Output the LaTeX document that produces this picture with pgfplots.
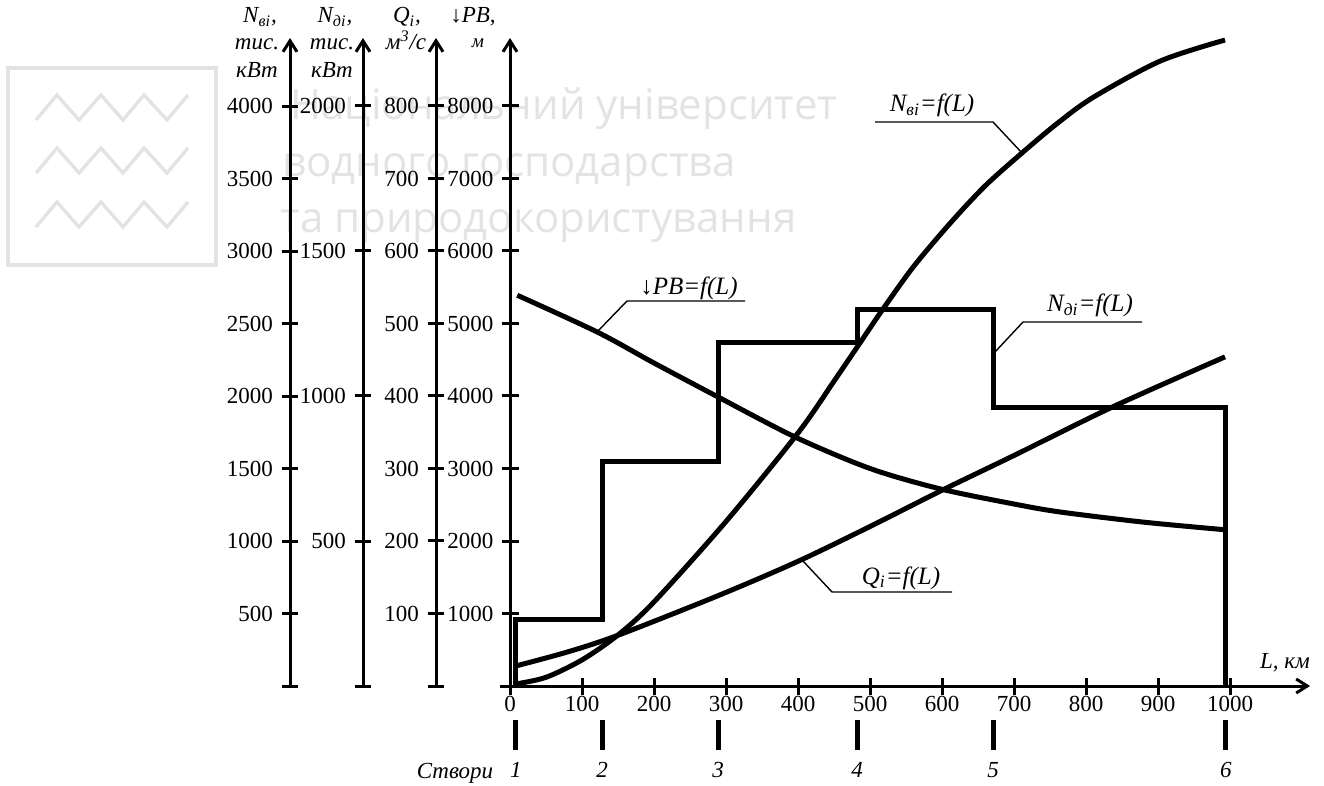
\documentclass[border=0pt]{standalone}
\usepackage{fontspec}
\setmainfont{Liberation Serif}
\newfontfamily\wmfont{Open Sans}
\usepackage{pgfplots}
\usepackage{pgfplotstable}
\pgfplotsset{compat=1.18}
\usetikzlibrary{arrows.meta}

% ↓PB = f(L), m
\pgfplotstableread{
L PB
10 5390
121 4883
200 4455
289 3986
396 3434
500 3000
597 2720
700 2510
764 2400
880 2260
993 2155
}\pbdata
% N_vi = f(L), thous. kW
\pgfplotstableread{
L N
8 14
50 60
100 180
150 352
200 580
300 1135
400 1745
451 2110
486 2366
517 2593
560 2890
611 3190
660 3450
711 3676
760 3880
810 4060
903 4310
993 4455
}\nvdata
% N_di = f(L), thous. kW (step)
\pgfplotstableread{
L N
8 0
8 231
128 231
128 775
289 775
289 1186
482 1186
482 1297
671 1297
671 962
994 962
994 0
}\nddata
% Q_i = f(L), m3/s
\pgfplotstableread{
L Q
8 27.6
80 47
150 70
290 125
400 172
500 220
600 270
700 318
837 385
993 454
}\qdata

\newcommand\lf{\fontsize{11.5}{13}\selectfont\itshape}
\newcommand\cf{\fontsize{12.5}{14}\selectfont\itshape}
\tikzset{barb/.style={-{Straight Barb[length=5.5pt,width=7pt,line width=1.5pt]}}}
\pgfplotsset{
  base/.style={scale only axis, width=405pt, height=324pt, at={(250pt,-343pt)}, anchor=south west,
    xmin=-13.9, xmax=1111, ymin=0, clip=false},
  scaleax/.style={scale only axis, width=1pt, height=324pt, anchor=south west,
    xmin=0, xmax=1, ymin=0, axis x line=none, axis y line=left,
    y axis line style={line width=1.5pt, barb},
    tick align=center, major tick length=8.5pt,
    ytick style={line width=1.5pt, black},
    tick label style={font=\fontsize{11.5}{13}\selectfont},
    yticklabel style={xshift=-0.8pt},
    /pgf/number format/assume math mode=true,
    /pgf/number format/1000 sep={}},
}

\begin{document}
\begin{tikzpicture}[x=0.5pt,y=-0.5pt]
\useasboundingbox (0,0) rectangle (1324,786);

% watermark
\begin{scope}[black!11]
\draw[line width=1.8pt] (8,68) rectangle (216,265);
\draw[line width=1.7pt] (36,120)--(57,95)--(79,120)--(101,95)--(123,120)--(144,95)--(167,120)--(188,95);
\draw[line width=1.7pt] (36,173)--(57,148)--(79,173)--(101,148)--(123,173)--(144,148)--(167,173)--(188,148);
\draw[line width=1.7pt] (36,227)--(57,202)--(79,227)--(101,202)--(123,227)--(144,202)--(167,227)--(188,202);
\node[anchor=base west, font=\wmfont\fontsize{21}{21}\selectfont, inner sep=0] at (290,120) {Національний університет};
\node[anchor=base west, font=\wmfont\fontsize{21}{21}\selectfont, inner sep=0] at (282,177) {водного господарства};
\node[anchor=base west, font=\wmfont\fontsize{21}{21}\selectfont, inner sep=0] at (280,233) {та природокористування};
\end{scope}

% left scales
\begin{axis}[scaleax, at={(145pt,-343pt)}, ymax=4469,
  ytick={0,500,...,4000}, yticklabels={,500,1000,1500,2000,2500,3000,3500,4000}]
\end{axis}
\begin{axis}[scaleax, at={(181.5pt,-343pt)}, ymax=2234.5,
  ytick={0,500,...,2000}, yticklabels={,500,1000,1500,2000}]
\end{axis}
\begin{axis}[scaleax, at={(218pt,-343pt)}, ymax=893.8,
  ytick={0,100,...,800}, yticklabels={,100,200,300,400,500,600,700,800}]
\end{axis}

% main axis with ↓PB
\begin{axis}[base, ymax=8938,
  axis lines=middle,
  axis line style={line width=1.5pt, barb},
  hide obscured x ticks=false, hide obscured y ticks=false,
  xtick={0,100,...,1000}, ytick={1000,2000,...,8000},
  tick align=center, major tick length=8.5pt,
  tick style={line width=1.5pt, black},
  tick label style={font=\fontsize{11.5}{13}\selectfont},
  yticklabel style={xshift=-0.5pt},
  xticklabel style={yshift=2.5pt},
  /pgf/number format/assume math mode=true,
  /pgf/number format/1000 sep={}]
\addplot[black, line width=2.5pt, smooth, no markers] table[x=L,y=PB] {\pbdata};
\foreach \s/\n in {8/1,128/2,289/3,482/4,671/5,994/6}{
  \edef\tmp{\noexpand\draw[line width=2.5pt] (axis cs:\s,-469) -- (axis cs:\s,-883);
    \noexpand\node[anchor=base, font=\noexpand\lf] at (axis cs:\s,-1262) {\n};}
  \tmp
}
\end{axis}

% N_vi
\begin{axis}[base, ymax=4469, hide axis]
\addplot[black, line width=2.5pt, smooth, no markers] table[x=L,y=N] {\nvdata};
\end{axis}
% N_di
\begin{axis}[base, ymax=2234.5, hide axis]
\addplot[black, line width=2.5pt, no markers, line join=miter] table[x=L,y=N] {\nddata};
\end{axis}
% Q_i
\begin{axis}[base, ymax=893.8, hide axis]
\addplot[black, line width=2.5pt, smooth, no markers] table[x=L,y=Q] {\qdata};
\end{axis}

% axis titles
\node[anchor=base, font=\lf] at (260,23) {N\textsubscript{вi},};
\node[anchor=base, font=\lf] at (257,50) {тис.};
\node[anchor=base, font=\lf] at (257,78) {кВт};
\node[anchor=base, font=\lf] at (335,23) {N\textsubscript{дi},};
\node[anchor=base, font=\lf] at (332,50) {тис.};
\node[anchor=base, font=\lf] at (332,78) {кВт};
\node[anchor=base, font=\lf] at (407,23) {Q\textsubscript{i},};
\node[anchor=base, font=\lf] at (406,50) {м\textsuperscript{3}/с};
\node[anchor=base, font=\lf] at (473,23) {↓PB,};
\node[anchor=base, font=\fontsize{9.5}{11}\selectfont\itshape] at (478,48) {м};
\node[anchor=base, font=\lf] at (1285,668) {L, км};
\node[anchor=base, font=\lf] at (455,778) {Створи};

% curve labels with leaders
\draw[line width=0.7pt] (875,122)--(993,122)--(1022,153);
\node[anchor=base, font=\cf] at (932,112) {N\textsubscript{вi}=f(L)};
\draw[line width=0.7pt] (745,301)--(627,301)--(597,332);
\node[anchor=base, font=\cf] at (689,295) {↓PB=f(L)};
\draw[line width=0.7pt] (1142,322)--(1023,322)--(995,352);
\node[anchor=base, font=\cf] at (1090,312) {N\textsubscript{дi}=f(L)};
\draw[line width=0.7pt] (952,592)--(832,592)--(803,561);
\node[anchor=base, font=\cf] at (901,584) {Q\textsubscript{i}=f(L)};
\end{tikzpicture}
\end{document}
